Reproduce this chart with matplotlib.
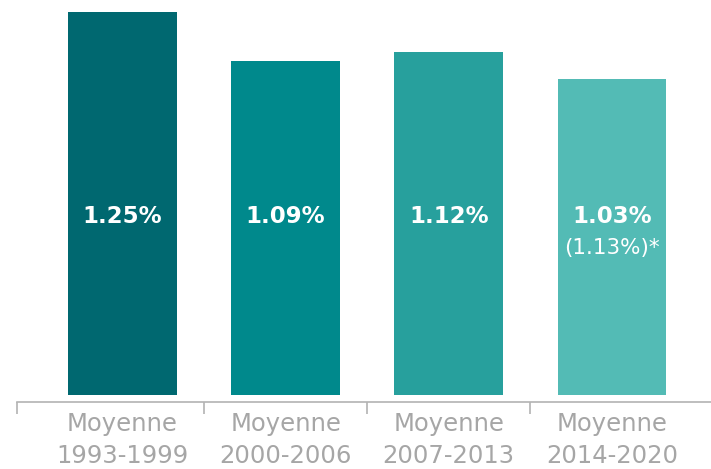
import matplotlib
matplotlib.use("Agg")
import matplotlib.pyplot as plt
import numpy as np

categories = ["Moyenne\n1993-1999", "Moyenne\n2000-2006", "Moyenne\n2007-2013", "Moyenne\n2014-2020"]
values = [1.25, 1.09, 1.12, 1.03]
value_labels = ["1.25%", "1.09%", "1.12%", "1.03%"]
extra_labels = ["", "", "", "(1.13%)*"]
colors = ["#006870", "#00898c", "#27a09d", "#53bbb5"]

plt.rcParams['font.family'] = ['DejaVu Sans']

fig = plt.figure(figsize=(7.11, 4.69), dpi=100)
ax = fig.add_axes([0, 0, 1, 1])

x = np.arange(len(categories))
ax.bar(x, values, width=0.665, color=colors)

ax.set_xlim(-0.751, 3.608)
ax.set_ylim(-0.2415, 1.2892)

for xi, lab, extra in zip(x, value_labels, extra_labels):
    ax.text(xi, 0.584, lab, ha='center', va='center', color='white',
            fontsize=16.5, fontweight='bold')
    if extra:
        ax.text(xi, 0.481, extra, ha='center', va='center', color='white',
                fontsize=15.5)

for s in ['top', 'right', 'left']:
    ax.spines[s].set_visible(False)
ax.spines['bottom'].set_position(('data', -0.0228))
ax.spines['bottom'].set_bounds(-0.647, 3.608)
ax.spines['bottom'].set_color('#b3b3b3')
ax.spines['bottom'].set_linewidth(1.2)

ax.set_yticks([])
ax.set_xticks([-0.647, 0.5, 1.5, 2.5])
ax.set_xticklabels([])
ax.tick_params(axis='x', which='major', length=8.5, width=1.2, color='#b3b3b3', direction='out')
ax.set_xticks(x, minor=True)
ax.set_xticklabels(categories, minor=True, fontsize=17.5, color='#a6a6a6', linespacing=1.45)
ax.tick_params(axis='x', which='minor', length=0, pad=7)

fig.savefig("out.png", dpi=100)
